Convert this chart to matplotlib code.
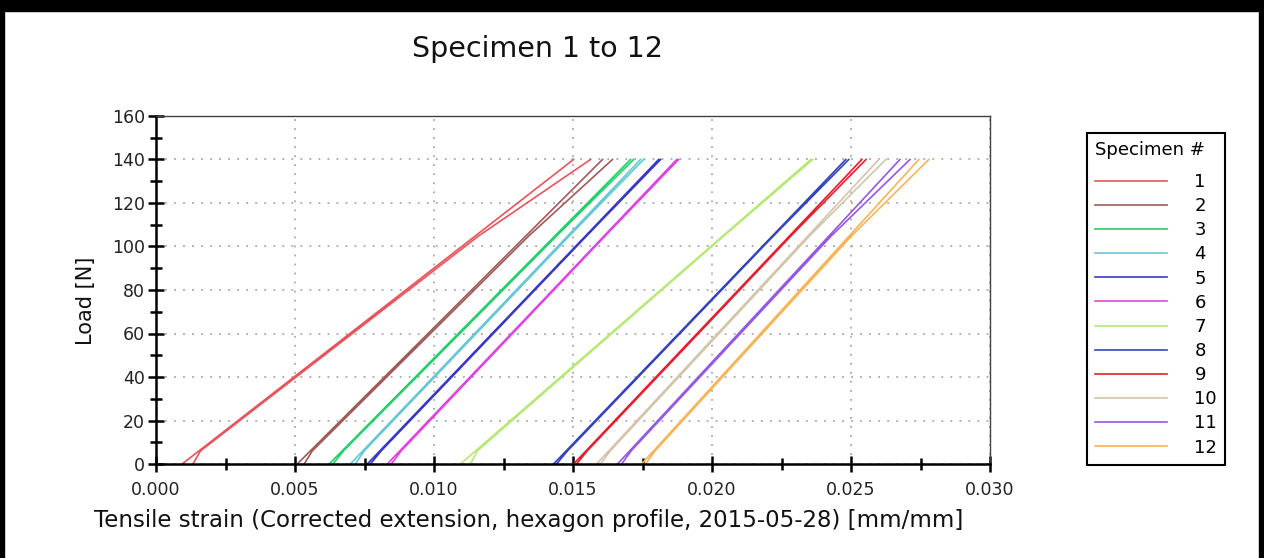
import matplotlib
matplotlib.use('Agg')
import matplotlib.pyplot as plt
from matplotlib.patches import Rectangle
from matplotlib.ticker import MultipleLocator, FormatStrFormatter
import numpy as np

# Specimen labels and colours
specimens = ['1', '2', '3', '4', '5', '6', '7', '8', '9', '10', '11', '12']
colors = ['#e8545c', '#a05a5a', '#22d068', '#66c8d4', '#3838c8', '#e044e0',
          '#b8e878', '#3444c0', '#e42030', '#d4c4ac', '#9458e4', '#f8b458']

# Straight trace: load [N] vs strain [mm/mm]
loads_a = [0, 140]
strain_a = [
    [0.00094, 0.01502],
    [0.00508, 0.01606],
    [0.00623, 0.01707],
    [0.00699, 0.01743],
    [0.00760, 0.01808],
    [0.00832, 0.01873],
    [0.01095, 0.02355],
    [0.01430, 0.02481],
    [0.01502, 0.02539],
    [0.01585, 0.02600],
    [0.01660, 0.02676],
    [0.01747, 0.02744],
]

# Second trace with toe region and knee near the top
loads_b = [0, 6, 105, 140]
strain_b = [
    [0.00133, 0.00160, 0.01162, 0.01563],
    [0.00533, 0.00562, 0.01342, 0.01642],
    [0.00637, 0.00674, 0.01442, 0.01718],
    [0.00717, 0.00749, 0.01488, 0.01754],
    [0.00771, 0.00810, 0.01550, 0.01815],
    [0.00846, 0.00882, 0.01617, 0.01880],
    [0.01131, 0.01156, 0.02044, 0.02363],
    [0.01441, 0.01480, 0.02222, 0.02492],
    [0.01513, 0.01551, 0.02285, 0.02554],
    [0.01599, 0.01634, 0.02352, 0.02625],
    [0.01675, 0.01709, 0.02430, 0.02712],
    [0.01761, 0.01795, 0.02503, 0.02780],
]

W, H = 1264, 558
fig = plt.figure(figsize=(W / 100, H / 100), dpi=100)
ax = fig.add_axes([156 / W, 1 - 464 / H, 834 / W, 348 / H])

for name, col, sa, sb in zip(specimens, colors, strain_a, strain_b):
    # one line per specimen, traces separated by NaN
    x = list(sa) + [np.nan] + list(sb)
    y = list(loads_a) + [np.nan] + list(loads_b)
    ax.plot(x, y, color=col, lw=1.2, label=name)

ax.set_xlim(0, 0.030)
ax.set_ylim(0, 160)
ax.xaxis.set_major_locator(MultipleLocator(0.005))
ax.xaxis.set_minor_locator(MultipleLocator(0.0025))
ax.xaxis.set_major_formatter(FormatStrFormatter('%.3f'))
ax.yaxis.set_major_locator(MultipleLocator(20))
ax.yaxis.set_minor_locator(MultipleLocator(10))

ax.grid(which='major', linestyle=(0, (1, 4)), color='#a8a8a8', lw=1.3)
ax.tick_params(which='major', direction='inout', length=12, width=1.8,
               labelsize=12.5, pad=2, colors='black')
ax.tick_params(which='minor', direction='inout', length=9, width=1.8)
ax.tick_params(axis='x', which='major', pad=6)
ax.tick_params(top=False, right=False, which='both')
for side in ['left', 'bottom']:
    ax.spines[side].set_linewidth(1.8)
    ax.spines[side].set_color('black')
for side in ['top', 'right']:
    ax.spines[side].set_linewidth(1.0)
    ax.spines[side].set_color('#404040')
for lbl in ax.get_xticklabels() + ax.get_yticklabels():
    lbl.set_color('#222222')

fig.text(538 / W, 1 - 49 / H, 'Specimen 1 to 12', ha='center', va='center',
         fontsize=20.5, color='#111111')
fig.text(529 / W, 1 - 521 / H,
         'Tensile strain (Corrected extension, hexagon profile, 2015-05-28) [mm/mm]',
         ha='center', va='center', fontsize=16.5, color='#111111')
fig.text(86 / W, 1 - 301 / H, 'Load [N]', rotation=90, ha='center', va='center',
         fontsize=15, color='#111111')

leg = ax.legend(loc='upper left', bbox_to_anchor=(1087 / W, 1 - 133 / H),
                bbox_transform=fig.transFigure, title='Specimen #', fontsize=13,
                title_fontsize=13, frameon=True, fancybox=False, framealpha=1,
                edgecolor='black', handlelength=4.0, handletextpad=1.5,
                labelspacing=0.34, borderpad=0.45, borderaxespad=0)
leg.get_frame().set_linewidth(1.5)
leg._legend_box.align = 'left'
leg._legend_box.sep = 10  # extra gap under the legend title

# black screenshot frame
fig.add_artist(Rectangle((0, 1 - 11 / H), 1, 11 / H, transform=fig.transFigure,
                         color='black', zorder=10))
fig.add_artist(Rectangle((0, 0), 4 / W, 1, transform=fig.transFigure,
                         color='black', zorder=10))
fig.add_artist(Rectangle((1 - 5 / W, 0), 5 / W, 1, transform=fig.transFigure,
                         color='black', zorder=10))

fig.savefig('out.png', dpi=100)
